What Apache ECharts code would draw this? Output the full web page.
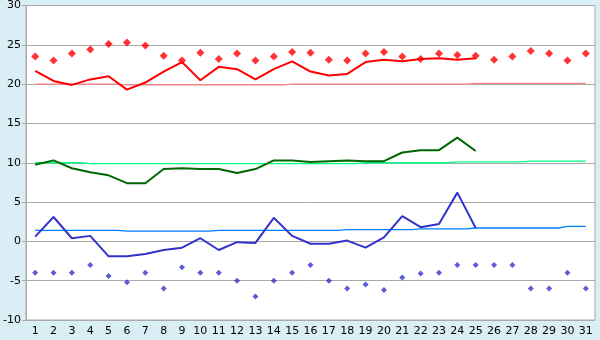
<!DOCTYPE html>
<html>
<head>
<meta charset="utf-8">
<script src="https://cdn.jsdelivr.net/npm/echarts@6/dist/echarts.min.js"></script>
<style>
html, body { margin: 0; padding: 0; background: #d9eef5; }
#main { width: 600px; height: 340px; }
</style>
</head>
<body>
<div id="main"></div>
<script>
var days = [];
for (var d = 1; d <= 31; d++) days.push(String(d));

// red: upper points, daily line, normal
let highPoints = [23.5, 23.0, 23.9, 24.4, 25.1, 25.3, 24.9, 23.6, 23.0, 24.0, 23.2, 23.9, 23.0, 23.5, 24.1, 24.0,
	23.1, 23.0, 23.9, 24.1, 23.5, 23.2, 23.9, 23.7, 23.6, 23.1, 23.5, 24.2, 23.9, 23.0, 23.9];
let highLine = [21.7, 20.4, 19.9, 20.6, 21.0, 19.3, 20.2, 21.6, 22.8, 20.5, 22.2, 21.9, 20.6, 21.9, 22.9, 21.6,
	21.1, 21.3, 22.8, 23.1, 22.9, 23.2, 23.3, 23.1, 23.3];
let highNormal = [20.0, 20.0, 20.0, 20.0, 20.0, 19.9, 19.9, 19.9, 19.9, 19.9, 19.9, 19.9, 19.9, 19.9, 20.0, 20.0,
	20.0, 20.0, 20.0, 20.0, 20.0, 20.0, 20.0, 20.0, 20.1, 20.1, 20.1, 20.1, 20.1, 20.1, 20.1];

// green: middle line and normal
let midLine = [9.75, 10.3, 9.3, 8.8, 8.4, 7.4, 7.4, 9.2, 9.3, 9.2, 9.2, 8.7, 9.2, 10.3, 10.3, 10.1,
	10.2, 10.3, 10.2, 10.2, 11.3, 11.6, 11.6, 13.2, 11.5];
let midNormal = [10.0, 10.0, 10.0, 9.9, 9.9, 9.9, 9.9, 9.9, 9.9, 9.9, 9.9, 9.9, 9.9, 9.9, 9.9, 9.9,
	9.9, 9.9, 10.0, 10.0, 10.0, 10.0, 10.0, 10.1, 10.1, 10.1, 10.1, 10.2, 10.2, 10.2, 10.2];

// blue: daily line, lower points, normal
let lowLine = [0.6, 3.1, 0.4, 0.7, -1.9, -1.9, -1.6, -1.1, -0.8, 0.4, -1.1, -0.1, -0.2, 3.0, 0.7, -0.3,
	-0.3, 0.1, -0.8, 0.5, 3.2, 1.8, 2.2, 6.2, 1.7];
let lowPoints = [-4.0, -4.0, -4.0, -3.0, -4.4, -5.2, -4.0, -6.0, -3.3, -4.0, -4.0, -5.0, -7.0, -5.0, -4.0, -3.0,
	-5.0, -6.0, -5.5, -6.2, -4.6, -4.1, -4.0, -3.0, -3.0, -3.0, -3.0, -6.0, -6.0, -4.0, -6.0];
let lowNormal = [1.4, 1.4, 1.4, 1.4, 1.4, 1.3, 1.3, 1.3, 1.3, 1.3, 1.4, 1.4, 1.4, 1.4, 1.4, 1.4,
	1.4, 1.5, 1.5, 1.5, 1.5, 1.6, 1.6, 1.6, 1.7, 1.7, 1.7, 1.7, 1.7, 1.9, 1.9];

let yTicks = { min: -10, max: 30, interval: 5 };

var myChart = echarts.init(document.getElementById('main'));

const normalLine = (name, data, color) => ({
	name: name,
	type: 'line',
	step: 'middle',
	showSymbol: false,
	z: 1,
	lineStyle: { color: color, width: 1.3 },
	data: data
});
const dayLine = (name, data, color) => ({
	name: name,
	type: 'line',
	showSymbol: false,
	z: 3,
	lineStyle: { color: color, width: 2 },
	data: data
});
const dots = (name, data, color, size) => ({
	name: name,
	type: 'scatter',
	symbol: 'diamond',
	symbolSize: size,
	z: 4,
	itemStyle: { color: color },
	data: data
});

option = {
	backgroundColor: '#d9eef5',
	animation: false,
	textStyle: { fontFamily: 'DejaVu Sans' },
	grid: {
		left: 26,
		right: 5,
		top: 5,
		bottom: 20,
		show: true,
		backgroundColor: '#ffffff',
		borderColor: '#aaaaaa',
		borderWidth: 1
	},
	xAxis: {
		type: 'category',
		data: days,
		boundaryGap: true,
		axisLine: { lineStyle: { color: '#aaaaaa' } },
		axisTick: { alignWithLabel: true, length: 5, lineStyle: { color: '#aaaaaa' } },
		axisLabel: { color: '#000', fontSize: 11, margin: 6, interval: 0 }
	},
	yAxis: {
		type: 'value',
		min: yTicks.min,
		max: yTicks.max,
		interval: yTicks.interval,
		axisLine: { show: true, lineStyle: { color: '#aaaaaa' } },
		axisTick: { show: true, length: 4, lineStyle: { color: '#aaaaaa' } },
		axisLabel: { color: '#000', fontSize: 11, margin: 5 },
		splitLine: { lineStyle: { color: '#aaaaaa' } }
	},
	series: [
		normalLine('highNormal', highNormal, '#ff8080'),
		normalLine('midNormal', midNormal, '#00ff80'),
		normalLine('lowNormal', lowNormal, '#0080ff'),
		dayLine('highLine', highLine, '#ff0000'),
		dayLine('midLine', midLine, '#006600'),
		dayLine('lowLine', lowLine, '#3333cc'),
		dots('highPoints', highPoints, '#ff0000', 8),
		dots('lowPoints', lowPoints, '#3333cc', 6)
	]
};
myChart.setOption(option);
</script>
</body>
</html>
